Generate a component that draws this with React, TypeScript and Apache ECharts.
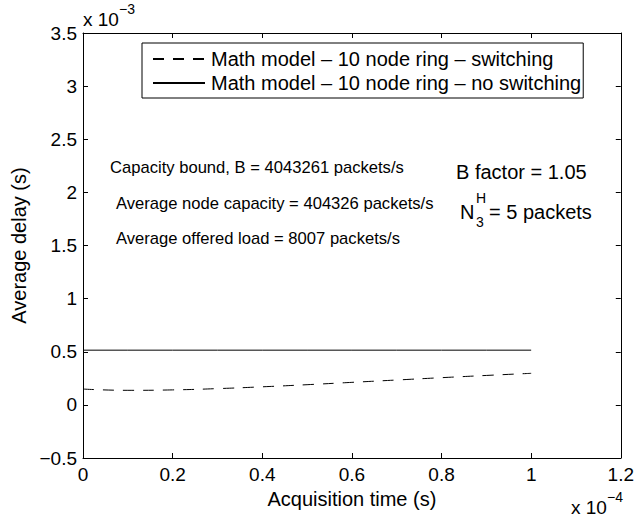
import React, { useEffect, useRef } from "react";
import * as echarts from "echarts";

const xValues = [0, 0.1, 0.2, 0.3, 0.4, 0.5, 0.6, 0.7, 0.8, 0.9, 1.0];
const switchingDelay = [0.149, 0.137, 0.141, 0.153, 0.17, 0.19, 0.212, 0.234, 0.256, 0.277, 0.297];
const noSwitchingDelay = [0.515, 0.515, 0.515, 0.515, 0.515, 0.515, 0.515, 0.515, 0.515, 0.515, 0.515];
const seriesNames = [
  "Math model \u2013 10 node ring \u2013 switching",
  "Math model \u2013 10 node ring \u2013 no switching",
];
const annotations = [
  "Capacity bound, B = 4043261 packets/s",
  "Average node capacity = 404326 packets/s",
  "Average offered load = 8007 packets/s",
];

const FONT = "'Liberation Sans', Arial, Helvetica, sans-serif";

export default function App() {
  const ref = useRef<HTMLDivElement>(null);
  useEffect(() => {
    const chart = echarts.init(ref.current!, null, { renderer: "svg" });
    const pair = (ys: number[]) => xValues.map((x, i) => [x, ys[i]]);
    const axisCommon = {
      axisLine: { show: true, onZero: false, lineStyle: { color: "#000", width: 1 } },
      axisTick: { show: true, inside: true, length: 5, lineStyle: { color: "#000" } },
      splitLine: { show: false },
    };
    const txt = (text: string, x: number, y: number, fontSize: number) => ({
      type: "text",
      x,
      y,
      style: { text, fontSize, fontFamily: FONT, fill: "#000", align: "left", verticalAlign: "middle" },
    });
    chart.setOption({
      animation: false,
      backgroundColor: "#fff",
      textStyle: { fontFamily: FONT },
      grid: { left: 83, top: 33, right: 15, bottom: 59, containLabel: false },
      xAxis: [
        {
          type: "value",
          min: 0,
          max: 1.2,
          interval: 0.2,
          ...axisCommon,
          axisLabel: {
            color: "#000",
            fontSize: 19,
            fontFamily: FONT,
            margin: 7,
            formatter: (v: number) => String(Math.round(v * 10) / 10),
          },
          name: "Acquisition time (s)",
          nameLocation: "middle",
          nameGap: 29,
          nameTextStyle: { color: "#000", fontSize: 20, fontFamily: FONT },
        },
        {
          type: "value",
          position: "top",
          min: 0,
          max: 1.2,
          interval: 0.2,
          ...axisCommon,
          axisLabel: { show: false },
        },
      ],
      yAxis: [
        {
          type: "value",
          min: -0.5,
          max: 3.5,
          interval: 0.5,
          ...axisCommon,
          axisLabel: {
            color: "#000",
            fontSize: 19,
            fontFamily: FONT,
            margin: 6,
            formatter: (v: number) => (v < 0 ? "\u2212" + String(-v) : String(v)),
          },
          name: "Average delay (s)",
          nameLocation: "middle",
          nameGap: 53,
          nameTextStyle: { color: "#000", fontSize: 20, fontFamily: FONT },
        },
        {
          type: "value",
          position: "right",
          min: -0.5,
          max: 3.5,
          interval: 0.5,
          ...axisCommon,
          axisLabel: { show: false },
        },
      ],
      legend: {
        orient: "vertical",
        left: 142,
        top: 43,
        padding: [6, 2, 5, 10],
        itemGap: 4,
        itemWidth: 52,
        itemHeight: 14,
        borderColor: "#000",
        borderWidth: 1,
        borderRadius: 0,
        backgroundColor: "#fff",
        itemStyle: { opacity: 0, borderWidth: 0 },
        textStyle: { color: "#000", fontSize: 20, lineHeight: 20, fontFamily: FONT, padding: [0, 0, 0, 1] },
        data: seriesNames,
      },
      series: [
        {
          name: seriesNames[0],
          type: "line",
          data: pair(switchingDelay),
          smooth: true,
          showSymbol: false,
          symbol: "none",
          lineStyle: { color: "#000", width: 1, type: [11, 9] },
          itemStyle: { color: "#000" },
        },
        {
          name: seriesNames[1],
          type: "line",
          data: pair(noSwitchingDelay),
          showSymbol: false,
          symbol: "none",
          lineStyle: { color: "#000", width: 1, type: "solid" },
          itemStyle: { color: "#000" },
        },
      ],
      graphic: [
        txt("x 10", 83, 19, 19),
        txt("\u22123", 119, 9, 14),
        txt("x 10", 571, 507, 19),
        txt("\u22124", 607, 497, 14),
        txt(annotations[0], 110, 167, 16.6),
        txt(annotations[1], 116, 203, 16.6),
        txt(annotations[2], 116, 238, 16.6),
        txt("B factor = 1.05", 456, 172, 20),
        txt("N", 460, 212, 20),
        txt("H", 476, 198, 14),
        txt("3", 476, 222, 14),
        txt("= 5 packets", 489, 212, 20),
      ],
    });
    return () => chart.dispose();
  }, []);
  return <div ref={ref} style={{ position: "fixed", left: 0, top: 0, width: 637, height: 517 }} />;
}
